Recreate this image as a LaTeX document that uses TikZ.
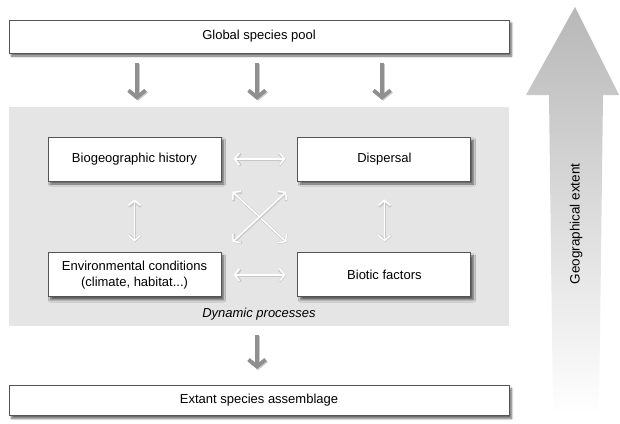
\documentclass[tikz,border=0pt]{standalone}
\usepackage{fontspec}
\setmainfont{Liberation Sans}
\usepackage{tikz}
\usetikzlibrary{arrows.meta}
\usetikzlibrary{positioning}
\usetikzlibrary{shadows.blur}
\definecolor{panelgray}{rgb}{0.898,0.898,0.898}
\definecolor{edgegray}{rgb}{0.33,0.33,0.33}
\definecolor{flowgray}{rgb}{0.56,0.56,0.56}

\begin{document}
\begin{tikzpicture}[x=1pt, y=-1pt,
    every node/.append style={font=\fontsize{13}{15.5}\selectfont, align=center},
    wbox/.style={draw=edgegray, line width=0.9pt, fill=white,
                 blur shadow={shadow xshift=2.5pt, shadow yshift=-3pt, shadow opacity=60, shadow blur steps=6}},
    longbox/.style={wbox, minimum width=500pt, minimum height=33pt},
    factor/.style={wbox, minimum width=173pt, minimum height=44pt},
    flow/.style={draw=flowgray, line width=3.8pt,
                 -{Straight Barb[length=7pt, width=17pt]},
                 preaction={draw=black!20, line width=3.8pt, transform canvas={xshift=1.2pt, yshift=-1pt},
                            -{Straight Barb[length=7pt, width=17pt]}}},
    link/.style={draw=white, line width=1.5pt,
                 {Straight Barb[length=5pt, width=12pt]}-{Straight Barb[length=5pt, width=12pt]},
                 preaction={draw=black!22, line width=2.6pt, transform canvas={xshift=0.5pt, yshift=-0.6pt}}}
  ]
  \useasboundingbox (0,0) rectangle (620,423);

  \node (pool) at (259,36.5) [longbox] {Global species pool};
  \node (dyn) at (259,216.5) [fill=panelgray, minimum width=500pt, minimum height=219pt] {};
  \node (ext) at (259,400.5) [longbox, minimum height=30pt] {Extant species assemblage};

  \node (hist) at (134.5,159) [factor] {Biogeographic history};
  \node (disp) [factor, right=76pt of hist] {Dispersal};
  \node (env) [factor, below=71pt of hist] {Environmental conditions\\(climate, habitat...)};
  \node (bio) [factor, right=76pt of env] {Biotic factors};
  \node (dynlabel) at (259,314) [font=\fontsize{13}{15.5}\selectfont\itshape] {Dynamic processes};

  % gray flows
  \draw[flow, shorten <=10pt, shorten >=7pt] ([xshift=-122pt]pool.south) -- ([xshift=-122pt]dyn.north);
  \draw[flow, shorten <=10pt, shorten >=7pt] ([xshift=-2pt]pool.south) -- ([xshift=-2pt]dyn.north);
  \draw[flow, shorten <=10pt, shorten >=7pt] ([xshift=123pt]pool.south) -- ([xshift=123pt]dyn.north);
  \draw[flow, shorten <=9pt, shorten >=16pt] ([xshift=-2pt]dyn.south) -- ([xshift=-2pt]ext.north);

  % white links
  \draw[link, shorten <=12pt, shorten >=12pt] (hist) -- (disp);
  \draw[link, shorten <=12pt, shorten >=12pt] (env) -- (bio);
  \draw[link, shorten <=18pt, shorten >=11pt] (hist) -- (env);
  \draw[link, shorten <=18pt, shorten >=11pt] (disp) -- (bio);
  \draw[link, shorten <=15pt, shorten >=15pt] (hist.south east) -- (bio.north west);
  \draw[link, shorten <=15pt, shorten >=15pt] (disp.south west) -- (env.north east);

  % geographical extent
  \coordinate (tip) at (575,7);
  \shade[top color=black!28, middle color=black!25, bottom color=white]
    (553,414) -- (549,95) -- (526,95) -- (tip) -- (619,95) -- (603,95) -- (599,414) -- cycle;
  \node (extent) at (576,224) [rotate=90, font=\fontsize{13.5}{16}\selectfont] {Geographical extent};
\end{tikzpicture}
\end{document}
